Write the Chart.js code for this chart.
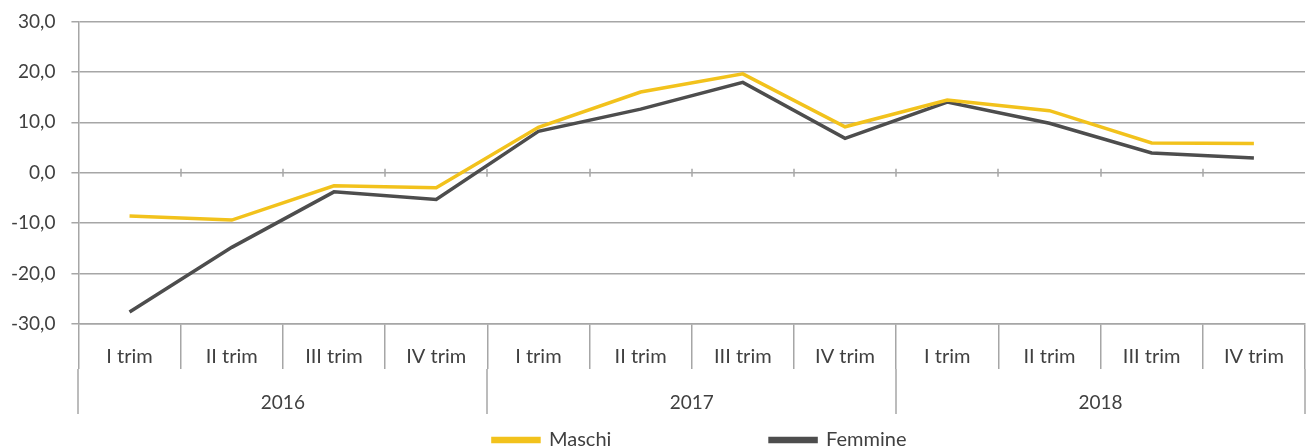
<!DOCTYPE html>
<html>
<head>
<meta charset="utf-8">
<script src="https://cdn.jsdelivr.net/npm/chart.js@4.4.0/dist/chart.umd.min.js"></script>
<style>
  html, body { margin: 0; padding: 0; background: #fff; }
  #wrap { width: 1309px; height: 448px; }
</style>
</head>
<body>
<div id="wrap"><canvas id="myChart"></canvas></div>
<script>
// dati (variazioni %)
const quarters = ['I trim', 'II trim', 'III trim', 'IV trim',
                  'I trim', 'II trim', 'III trim', 'IV trim',
                  'I trim', 'II trim', 'III trim', 'IV trim'];
const years = ['2016', '2017', '2018'];
const maschi = [-8.6, -9.4, -2.6, -3.0, 9.0, 16.0, 19.6, 9.1, 14.4, 12.3, 5.9, 5.8];
const femmine = [-27.6, -14.8, -3.8, -5.3, 8.2, 12.6, 17.9, 6.8, 14.0, 9.8, 3.9, 2.9];

const textColor = '#404040';
const gridColor = '#a6a6a6';
const fontFamily = 'Lato, "Liberation Sans", sans-serif';
const quarterTick = 45;
const yearRow = 45;

// secondo livello dell'asse x (anni) + piccoli tick sulla linea dello zero
const yearAxis = {
    id: 'yearAxis',
    afterLayout: function (chart) {
        // legenda centrata sotto l'area del grafico (un po' spostata a destra come nell'originale)
        chart.legend.left = chart.chartArea.left + 8;
        chart.legend.right = chart.chartArea.right + 8;
    },
    afterDraw: function (chart) {
        const ctx = chart.ctx;
        const xs = chart.scales.x;
        const ys = chart.scales.y;
        const n = quarters.length;
        const per = n / years.length;
        const w = (xs.right - xs.left) / n;
        const top = xs.top + quarterTick;
        ctx.save();
        ctx.strokeStyle = gridColor;
        ctx.lineWidth = 1.5;
        for (let g = 0; g <= years.length; g++) {
            const px = Math.round(xs.left + g * per * w);
            ctx.beginPath();
            ctx.moveTo(px, top);
            ctx.lineTo(px, top + yearRow);
            ctx.stroke();
        }
        const y0 = ys.getPixelForValue(0);
        for (let i = 1; i < n; i++) {
            const px = Math.round(xs.left + i * w);
            ctx.beginPath();
            ctx.moveTo(px, y0 - 4);
            ctx.lineTo(px, y0 + 4);
            ctx.stroke();
        }
        ctx.fillStyle = textColor;
        ctx.font = '19px ' + fontFamily;
        ctx.textAlign = 'center';
        ctx.textBaseline = 'middle';
        years.forEach(function (yr, g) {
            ctx.fillText(yr, xs.left + (g + 0.5) * per * w, top + 34);
        });
        ctx.restore();
    }
};

let ctx = document.getElementById('myChart').getContext('2d');
let chart = new Chart(ctx, {
    type: 'line',
    data: {
        labels: quarters,
        datasets: [{
            label: 'Maschi',
            data: maschi,
            borderColor: '#f2c21c',
            backgroundColor: '#f2c21c',
            borderWidth: 3.5,
            pointRadius: 0,
            tension: 0
        }, {
            label: 'Femmine',
            data: femmine,
            borderColor: '#4d4d4d',
            backgroundColor: '#4d4d4d',
            borderWidth: 3.5,
            pointRadius: 0,
            tension: 0
        }]
    },
    options: {
        responsive: true,
        maintainAspectRatio: false,
        animation: false,
        layout: { padding: { top: 10, right: 4, left: -5, bottom: -12 } },
        plugins: {
            tooltip: { enabled: false },
            legend: {
                position: 'bottom',
                labels: {
                    color: textColor,
                    font: { family: fontFamily, size: 20 },
                    boxWidth: 46,
                    boxHeight: 3,
                    padding: 0,
                    generateLabels: function (c) {
                        const items = Chart.defaults.plugins.legend.labels.generateLabels(c);
                        items[0].text = items[0].text + '\u00a0'.repeat(31);
                        return items;
                    }
                }
            }
        },
        scales: {
            x: {
                offset: true,
                grid: {
                    offset: true,
                    drawOnChartArea: false,
                    tickLength: quarterTick,
                    color: gridColor,
                    lineWidth: 1.5
                },
                border: { color: gridColor, width: 1.5 },
                ticks: {
                    color: textColor,
                    font: { family: fontFamily, size: 20 },
                    padding: -24,
                    maxRotation: 0,
                    autoSkip: false
                },
                afterFit: function (scale) {
                    // spazio per la riga degli anni
                    scale.height += 85;
                }
            },
            y: {
                min: -30,
                max: 30,
                grid: {
                    color: gridColor,
                    lineWidth: 1.5,
                    tickLength: 7
                },
                border: { color: gridColor, width: 1.5 },
                ticks: {
                    stepSize: 10,
                    color: textColor,
                    font: { family: fontFamily, size: 19 },
                    padding: 16,
                    callback: function (v) {
                        return v.toFixed(1).replace('.', ',');
                    }
                },
                afterFit: function (scale) {
                    scale.paddingTop -= 6;
                }
            }
        }
    },
    plugins: [yearAxis]
});
</script>
</body>
</html>
